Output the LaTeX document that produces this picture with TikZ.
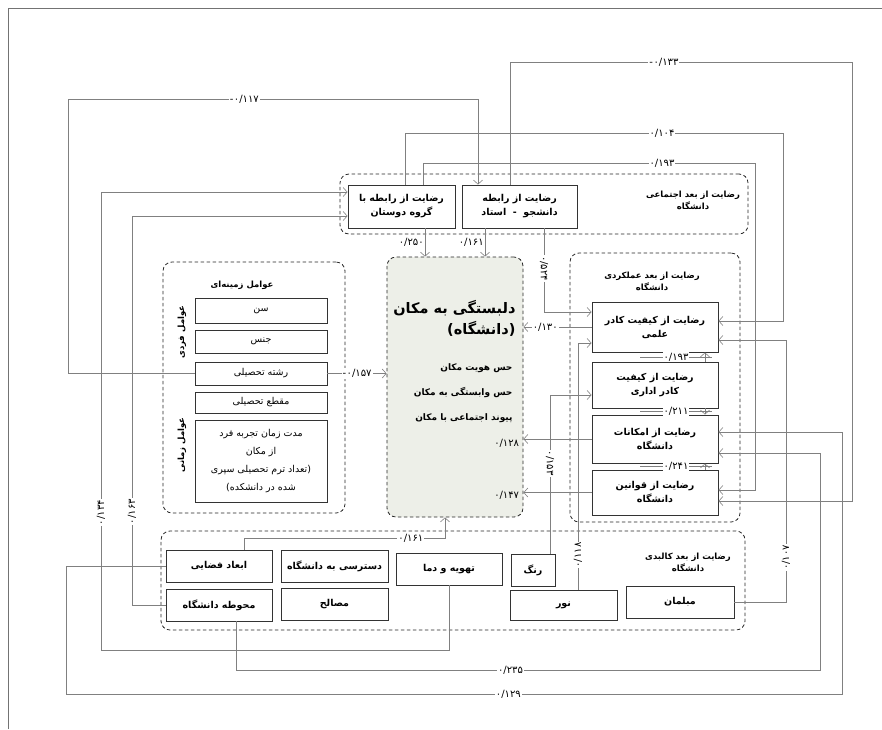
\documentclass[tikz,border=0pt]{standalone}
\usepackage{fontspec}
\newfontfamily\fa[Script=Arabic]{DejaVu Sans}
\TeXXeTstate=1
\newcommand{\rl}[1]{\beginR #1\endR}
\newcommand{\mn}{\hbox{-}\kern0.5pt}
\usetikzlibrary{arrows.meta, positioning}
\definecolor{wire}{HTML}{808080}
\definecolor{dilbg}{HTML}{EDEFE8}
\tikzstyle{factor} = [draw=black!80, line width=0.9pt, align=center, inner sep=1pt, font=\fa\bfseries\fontsize{9.5}{14}\selectfont]
\tikzstyle{trait} = [factor, font=\fa\fontsize{9.5}{18}\selectfont]
\tikzstyle{group} = [draw=black!85, line width=0.8pt, dash pattern=on 3.5pt off 2.5pt, rounded corners=9pt]
\tikzstyle{heading} = [align=center, inner sep=1pt, font=\fa\bfseries\fontsize{8.5}{12}\selectfont]
\tikzstyle{coef} = [font=\fa\fontsize{10}{10}\selectfont, inner sep=1pt]
\tikzstyle{arrow} = [draw=wire, line width=0.6pt, -{Straight Barb[length=4pt,width=9pt]}]
\tikzstyle{link} = [draw=wire, line width=0.6pt]

\begin{document}
\begin{tikzpicture}[x=1pt, y=-1pt]
    \useasboundingbox (0,0) rectangle (882,729);
    \draw[black!55, line width=0.8pt] (8,729) -- (8,8) -- (882,8);

    \node[group, minimum width=408, minimum height=60] (social) at (544,204) {};
    \node[group, minimum width=182, minimum height=251] (zamine) at (254,387.5) {};
    \node[group, minimum width=170, minimum height=269] (amalkard) at (655,387.5) {};
    \node[group, minimum width=584, minimum height=99] (kalbadi) at (453,580.5) {};
    \node[group, fill=dilbg, minimum width=136, minimum height=260] (dil) at (455,387) {};

    \node[heading] (socialtitle) at (693,200) {\rl{رضایت از بعد اجتماعی}\\\rl{دانشگاه}};
    \node[heading] (zaminetitle) at (242,285) {\rl{عوامل زمینه‌ای}};
    \node[heading] (amalkardtitle) at (652,281) {\rl{رضایت از بعد عملکردی}\\\rl{دانشگاه}};
    \node[heading] (kalbadititle) at (688,562) {\rl{رضایت از بعد کالبدی}\\\rl{دانشگاه}};
    \node[heading, rotate=90] (fardi) at (182,332) {\rl{عوامل فردی}};
    \node[heading, rotate=90] (zamani) at (182,445) {\rl{عوامل زمانی}};

    \node[align=right, anchor=east, font=\fa\bfseries\fontsize{14.5}{21}\selectfont] (diltitle) at (519,318) {\rl{دلبستگی به مکان}\\\rl{(دانشگاه)}};
    \node[align=right, anchor=east, font=\fa\bfseries\fontsize{9}{25}\selectfont] (dilitems) at (516,393) {\rl{حس هویت مکان}\\\rl{حس وابستگی به مکان}\\\rl{پیوند اجتماعی با مکان}};

    \node[factor, minimum width=107, minimum height=43] (dust) at (401.5,206.5) {\rl{رضایت از رابطه با}\\\rl{گروه دوستان}};
    \node[factor, minimum width=115, minimum height=43] (ostad) at (519.5,206.5) {\rl{رضایت از رابطه}\\\rl{دانشجو \ - \ استاد}};

    \node[trait, minimum width=132, minimum height=25] (sen) at (261,310.5) {\rl{سن}};
    \node[trait, minimum width=132, minimum height=23] (jens) at (261,341.5) {\rl{جنس}};
    \node[trait, minimum width=132, minimum height=23] (reshte) at (261,373.5) {\rl{رشته تحصیلی}};
    \node[trait, minimum width=132, minimum height=21] (maghta) at (261,402.5) {\rl{مقطع تحصیلی}};
    \node[trait, minimum width=132, minimum height=82] (moddat) at (261,461) {\rl{مدت زمان تجربه فرد}\\\rl{از مکان}\\\rl{(تعداد ترم تحصیلی سپری}\\\rl{شده در دانشکده)}};

    \node[factor, minimum width=126, minimum height=50] (elmi) at (655,327) {\rl{رضایت از کیفیت کادر}\\\rl{علمی}};
    \node[factor, minimum width=126, minimum height=46] (edari) at (655,385) {\rl{رضایت از کیفیت}\\\rl{کادر اداری}};
    \node[factor, minimum width=126, minimum height=48] (emkanat) at (655,439) {\rl{رضایت از امکانات}\\\rl{دانشگاه}};
    \node[factor, minimum width=126, minimum height=45] (ghavanin) at (655,492.5) {\rl{رضایت از قوانین}\\\rl{دانشگاه}};

    \node[factor, minimum width=106, minimum height=32] (abad) at (219,566) {\rl{ابعاد فضایی}};
    \node[factor, minimum width=106, minimum height=32] (mohavate) at (219,605) {\rl{محوطه دانشگاه}};
    \node[factor, minimum width=107, minimum height=32] (dastresi) at (334.5,566) {\rl{دسترسی به دانشگاه}};
    \node[factor, minimum width=107, minimum height=32] (masaleh) at (334.5,604) {\rl{مصالح}};
    \node[factor, minimum width=106, minimum height=32] (tahvie) at (449,569) {\rl{تهویه و دما}};
    \node[factor, minimum width=44, minimum height=32] (rang) at (533,570) {\rl{رنگ}};
    \node[factor, minimum width=107, minimum height=30] (noor) at (563.5,605) {\rl{نور}};
    \node[factor, minimum width=108, minimum height=32] (mobleman) at (680,602) {\rl{مبلمان}};

    \draw[arrow] (reshte.west) -| (68,99) -- node[coef, fill=white, pos=0.43] {\mn۰/۱۱۷} (478,99) -- (478,99 |- ostad.north);
    \draw[arrow] (ostad.north -| 510,0) -- (510,62) -- node[coef, fill=white, pos=0.45] {\mn۰/۱۳۳} (852,62) -- (852,501) -- (852,501 -| ghavanin.east);
    \draw[arrow] (dust.north -| 405,0) -- (405,133) -- node[coef, fill=white, pos=0.68] {۰/۱۰۴} (783,133) -- (783,321) -- (783,321 -| elmi.east);
    \draw[arrow] (dust.north -| 423,0) -- (423,163) -- node[coef, fill=white, pos=0.72] {۰/۱۹۳} (755,163) -- (755,490) -- (755,490 -| ghavanin.east);
    \draw[arrow] (mobleman.east) -- (786,602) -- node[coef, fill=white, rotate=90, pos=0.17] {۰/۱۰۷} (786,340) -- (786,340 -| elmi.east);
    \draw[arrow] (abad.west) -| (66,694) -- node[coef, fill=white, pos=0.57] {۰/۱۲۹} (842,694) -- (842,432) -- (842,432 -| emkanat.east);
    \draw[arrow] (mohavate.south -| 236,0) -- (236,670) -- node[coef, fill=white, pos=0.47] {۰/۲۳۵} (820,670) -- (820,453) -- (820,453 -| emkanat.east);
    \draw[arrow] (tahvie.south) -- (449,650) -- (101,650) -- node[coef, fill=white, rotate=90, pos=0.3] {۰/۱۳۴} (101,192) -- (101,192 -| dust.west);
    \draw[arrow] (mohavate.west) -- (132,605) -- node[coef, fill=white, rotate=90, pos=0.24] {۰/۱۶۳} (132,216) -- (132,216 -| dust.west);

    \draw[arrow] (dust.south -| 425,0) -- node[coef, left] {۰/۲۵۰} (425,0 |- dil.north);
    \draw[arrow] (ostad.south -| 485,0) -- node[coef, left] {۰/۱۶۱} (485,0 |- dil.north);
    \draw[arrow] (ostad.south -| 544,0) -- node[coef, fill=white, rotate=-90, pos=0.48] {۰/۵۲۴} (544,312) -- (544,312 -| elmi.west);
    \draw[arrow] (elmi.west) -- node[coef, fill=white, pos=0.68] {۰/۱۳۰} (elmi.west -| dil.east);
    \draw[arrow] (rang.north -| 550,0) -- node[coef, fill=white, rotate=-90, pos=0.57] {۰/۱۵۳} (550,395) -- (550,395 -| edari.west);
    \draw[arrow] (noor.north -| 578,0) -- node[coef, fill=white, rotate=90, pos=0.14] {۰/۱۱۸} (578,343) -- (578,343 -| elmi.west);
    \draw[arrow] (emkanat.west) -- (emkanat.west -| dil.east) node[coef, anchor=east, xshift=-3pt, yshift=-4pt] {۰/۱۲۸};
    \draw[arrow] (ghavanin.west) -- (ghavanin.west -| dil.east) node[coef, anchor=east, xshift=-3pt, yshift=-3pt] {۰/۱۴۷};
    \draw[arrow] (reshte.east) -- node[coef, fill=white] {\mn۰/۱۵۷} (reshte.east -| dil.west);
    \draw[arrow] (abad.north -| 244,0) -- (244,538) -- node[coef, fill=white, pos=0.83] {۰/۱۶۱} (445,538) -- (445,538 |- dil.south);

    \draw[arrow] (edari.north -| 705,0) -- (705,0 |- elmi.south);
    \draw[link] (640,357) -- node[coef, fill=white] {۰/۱۹۳} (712,357);
    \draw[arrow] (edari.south -| 705,0) -- (705,0 |- emkanat.north);
    \draw[link] (640,411.5) -- node[coef, fill=white] {۰/۲۱۱} (712,411.5);
    \draw[arrow] (ghavanin.north -| 705,0) -- (705,0 |- emkanat.south);
    \draw[link] (640,466.5) -- node[coef, fill=white] {۰/۲۴۱} (712,466.5);
\end{tikzpicture}
\end{document}
